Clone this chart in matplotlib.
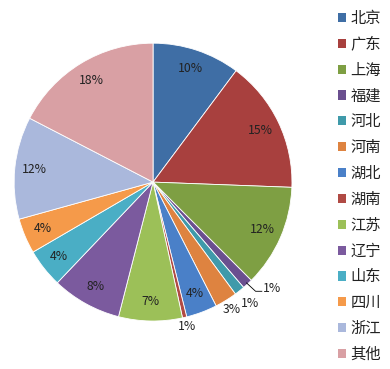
import numpy as np
import matplotlib
matplotlib.use('Agg')
import matplotlib.pyplot as plt
from matplotlib.patches import Patch

plt.rcParams['font.family'] = ['Noto Sans CJK SC', 'DejaVu Sans']

regions = ['北京', '广东', '上海', '福建', '河北', '河南', '湖北',
           '湖南', '江苏', '辽宁', '山东', '四川', '浙江', '其他']
shares = [10.2, 15.4, 11.9, 1.2, 1.2, 2.6, 3.6, 0.5, 7.4, 8.1, 4.5, 4.1, 11.9, 17.4]
pct_text = ['10%', '15%', '12%', '1%', '1%', '3%', '4%', '1%', '7%', '8%', '4%', '4%', '12%', '18%']
colors = ['#3f6ea5', '#a8403e', '#7e9f43', '#6a4f8f', '#3f9aaa', '#de8340', '#4a80c8',
          '#b04a44', '#9cc058', '#7b5a9e', '#4aaec5', '#f59a4a', '#aab8dc', '#d9a0a4']
# label radius (1 = pie edge); small slices get labels outside
label_r = [0.86, 0.86, 0.86, 1.14, 1.12, 1.08, 0.86, 1.07, 0.86, 0.86, 0.86, 0.86, 0.86, 0.86]

fig = plt.figure(figsize=(3.9, 3.69), dpi=100)
ax = fig.add_axes([0.0359, 0.130, 0.713, 0.753])

wedges, _ = ax.pie(shares, colors=colors, startangle=90, counterclock=False,
                   radius=1, wedgeprops=dict(edgecolor='white', linewidth=0.6))
ax.set_xlim(-1, 1)
ax.set_ylim(-1, 1)
ax.set_aspect('equal')
ax.axis('off')

for i, w in enumerate(wedges):
    mid = np.deg2rad((w.theta1 + w.theta2) / 2)
    r = label_r[i]
    x, y = r * np.cos(mid), r * np.sin(mid)
    if i == 3:
        # leader line for the first 1% slice
        ex, ey = 0.99 * np.cos(mid), 0.99 * np.sin(mid)
        ax.plot([ex, ex + 0.065, ex + 0.11], [ey, ey - 0.06, ey - 0.06],
                color='black', lw=0.6, clip_on=False)
        ax.text(ex + 0.12, ey - 0.04, pct_text[i], ha='left', va='center',
                fontsize=8.8, color='#222222')
        continue
    ax.text(x, y, pct_text[i], ha='center', va='center', fontsize=8.8, color='#222222')

handles = [Patch(facecolor=c, edgecolor='none') for c in colors]
leg = fig.legend(handles, regions, loc='upper left', bbox_to_anchor=(0.85, 0.99),
                 frameon=False, fontsize=11, handlelength=0.55, handleheight=0.55,
                 handletextpad=0.3, labelspacing=0.58, borderaxespad=0)
for t in leg.get_texts():
    t.set_color('#222222')

fig.savefig('out.png', dpi=100)
